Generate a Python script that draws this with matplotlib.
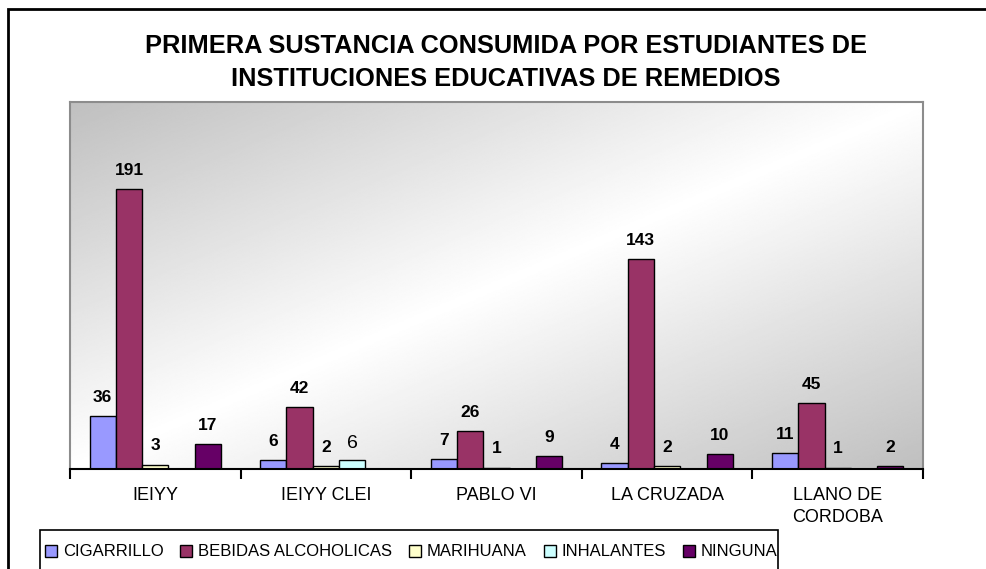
import numpy as np
import matplotlib.pyplot as plt
from matplotlib.patches import Rectangle, Patch

plt.rcParams["font.family"] = ["Liberation Sans", "DejaVu Sans"]

CATEGORIES = ["IEIYY", "IEIYY CLEI", "PABLO VI", "LA CRUZADA", "LLANO DE\nCORDOBA"]
SERIES = ["CIGARRILLO", "BEBIDAS ALCOHOLICAS", "MARIHUANA", "INHALANTES", "NINGUNA"]
CIGARRILLO = [36, 6, 7, 4, 11]
BEBIDAS = [191, 42, 26, 143, 45]
MARIHUANA = [3, 2, 1, 2, 1]
INHALANTES = [0, 6, 0, 0, 0]
NINGUNA = [17, 0, 9, 10, 2]
TITLE = "PRIMERA SUSTANCIA CONSUMIDA POR ESTUDIANTES DE\nINSTITUCIONES EDUCATIVAS DE REMEDIOS"

COLORS = ["#9999FF", "#993366", "#FFFFCC", "#CCFFFF", "#660066"]

W, H = 986, 569
fig = plt.figure(figsize=(W / 100, H / 100), dpi=100)

# plot area in pixels
left, right, top, bottom = 70, 923, 102, 469
pos = [left / W, 1 - bottom / H, (right - left) / W, (bottom - top) / H]

# gradient background
bg = fig.add_axes(pos, zorder=0)
u, v = np.meshgrid(np.linspace(0, 1, 400), np.linspace(0, 1, 300))
d = np.abs(u + v - 1)
grad = 1 - 0.25 * d
bg.imshow(grad, cmap="gray", vmin=0, vmax=1, extent=[0, 1, 0, 1],
          aspect="auto", origin="upper", interpolation="bilinear")
bg.set_xticks([])
bg.set_yticks([])
for s in bg.spines.values():
    s.set_visible(False)

ax = fig.add_axes(pos, zorder=1)
ax.set_facecolor("none")

data = [CIGARRILLO, BEBIDAS, MARIHUANA, INHALANTES, NINGUNA]
x = np.arange(len(CATEGORIES))
bw = 0.154
for j, (name, vals) in enumerate(zip(SERIES, data)):
    xs = x + (j - 2) * bw
    ax.bar(xs, vals, width=bw, color=COLORS[j], edgecolor="black",
           linewidth=1, label=name)
    for xi, val in zip(xs, vals):
        if val == 0:
            continue
        if j == 3:
            ax.annotate(str(val), (xi, val), xytext=(0, 6),
                        textcoords="offset points", ha="center", va="bottom",
                        fontsize=14)
        else:
            ax.annotate(str(val), (xi, val), xytext=(0, 8),
                        textcoords="offset points", ha="center", va="bottom",
                        fontsize=12.5, fontweight="bold")

ax.set_xlim(-0.5, len(CATEGORIES) - 0.5)
ax.set_ylim(0, 250)
ax.set_yticks([])
ax.set_xticks(x)
ax.set_xticklabels(CATEGORIES, fontsize=13, va="top", linespacing=1.4)
ax.set_xticks(np.arange(-0.5, len(CATEGORIES)), minor=True)
ax.tick_params(axis="x", which="major", length=0, pad=13)
ax.tick_params(axis="x", which="minor", length=7, width=1.5, color="black")

for side in ["top", "left", "right"]:
    ax.spines[side].set_color("#8c8c8c")
    ax.spines[side].set_linewidth(1.5)
ax.spines["bottom"].set_color("black")
ax.spines["bottom"].set_linewidth(1.5)

fig.suptitle(TITLE, x=506 / W, y=1 - 34 / H, fontsize=18.3, fontweight="bold",
             va="top", linespacing=1.48)

# outer chart frame (cut off at right/bottom)
fig.patches.append(Rectangle((8 / W, -0.2), 1.2, 1.2 - 9 / H, fill=False,
                             edgecolor="black", linewidth=2,
                             transform=fig.transFigure, clip_on=False))

# legend box (cut off at bottom)
fig.patches.append(Rectangle((40 / W, -0.2), (778 - 40) / W, 0.2 + 1 - 530 / H,
                             fill=False, edgecolor="black", linewidth=1.2,
                             transform=fig.transFigure, clip_on=False))
handles = [Patch(facecolor=c, edgecolor="black", linewidth=1) for c in COLORS]
fig.legend(handles, SERIES, loc="center left", bbox_to_anchor=(45 / W, 1 - 552 / H),
           ncol=5, frameon=False, fontsize=12, handlelength=0.72,
           handleheight=0.72, handletextpad=0.36, columnspacing=1.0,
           borderpad=0, borderaxespad=0)

fig.savefig("out.png", dpi=100)
